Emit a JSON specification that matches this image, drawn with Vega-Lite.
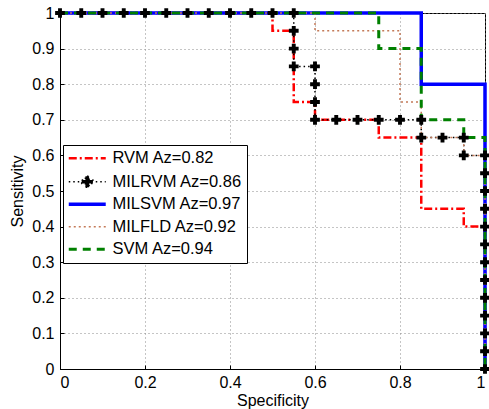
{
  "$schema": "https://vega.github.io/schema/vega-lite/v6.json",
  "width": 425,
  "height": 356,
  "autosize": "none",
  "padding": {"left": 60, "top": 13, "right": 4, "bottom": 40},
  "config": {
    "font": "Liberation Sans",
    "view": {"stroke": "#000000", "strokeWidth": 1},
    "axis": {
      "domainColor": "#000000",
      "tickColor": "#000000",
      "labelColor": "#000000",
      "titleColor": "#000000",
      "labelFontSize": 16,
      "titleFontSize": 16,
      "titleFontWeight": "normal",
      "gridColor": "#8a8a8a",
      "gridDash": [1, 3],
      "gridWidth": 1,
      "tickSize": -4
    },
    "legend": {
      "title": null,
      "orient": "none",
      "legendX": 3,
      "legendY": 132,
      "fillColor": "#ffffff",
      "strokeColor": "#000000",
      "padding": 5,
      "labelFontSize": 16.5,
      "labelColor": "#000000",
      "symbolType": "M-3,0H3",
      "symbolSize": 152,
      "symbolOffset": 11,
      "rowPadding": 5.5,
      "labelOffset": 17
    }
  },
  "data": {
    "values": [
      {"m": "RVM Az=0.82", "o": 1, "x": 0, "y": 1},
      {"m": "RVM Az=0.82", "o": 2, "x": 0.5, "y": 1},
      {"m": "RVM Az=0.82", "o": 3, "x": 0.5, "y": 0.95},
      {"m": "RVM Az=0.82", "o": 4, "x": 0.55, "y": 0.95},
      {"m": "RVM Az=0.82", "o": 5, "x": 0.55, "y": 0.75},
      {"m": "RVM Az=0.82", "o": 6, "x": 0.6, "y": 0.75},
      {"m": "RVM Az=0.82", "o": 7, "x": 0.6, "y": 0.7},
      {"m": "RVM Az=0.82", "o": 8, "x": 0.75, "y": 0.7},
      {"m": "RVM Az=0.82", "o": 9, "x": 0.75, "y": 0.65},
      {"m": "RVM Az=0.82", "o": 10, "x": 0.85, "y": 0.65},
      {"m": "RVM Az=0.82", "o": 11, "x": 0.85, "y": 0.45},
      {"m": "RVM Az=0.82", "o": 12, "x": 0.95, "y": 0.45},
      {"m": "RVM Az=0.82", "o": 13, "x": 0.95, "y": 0.4},
      {"m": "RVM Az=0.82", "o": 14, "x": 1, "y": 0.4},
      {"m": "RVM Az=0.82", "o": 15, "x": 1, "y": 0},

      {"m": "MILRVM Az=0.86", "o": 1, "x": 0, "y": 1},
      {"m": "MILRVM Az=0.86", "o": 2, "x": 0.05, "y": 1},
      {"m": "MILRVM Az=0.86", "o": 3, "x": 0.1, "y": 1},
      {"m": "MILRVM Az=0.86", "o": 4, "x": 0.15, "y": 1},
      {"m": "MILRVM Az=0.86", "o": 5, "x": 0.2, "y": 1},
      {"m": "MILRVM Az=0.86", "o": 6, "x": 0.25, "y": 1},
      {"m": "MILRVM Az=0.86", "o": 7, "x": 0.3, "y": 1},
      {"m": "MILRVM Az=0.86", "o": 8, "x": 0.35, "y": 1},
      {"m": "MILRVM Az=0.86", "o": 9, "x": 0.4, "y": 1},
      {"m": "MILRVM Az=0.86", "o": 10, "x": 0.45, "y": 1},
      {"m": "MILRVM Az=0.86", "o": 11, "x": 0.5, "y": 1},
      {"m": "MILRVM Az=0.86", "o": 12, "x": 0.55, "y": 1},
      {"m": "MILRVM Az=0.86", "o": 13, "x": 0.55, "y": 0.95},
      {"m": "MILRVM Az=0.86", "o": 14, "x": 0.55, "y": 0.9},
      {"m": "MILRVM Az=0.86", "o": 15, "x": 0.55, "y": 0.85},
      {"m": "MILRVM Az=0.86", "o": 16, "x": 0.6, "y": 0.85},
      {"m": "MILRVM Az=0.86", "o": 17, "x": 0.6, "y": 0.8},
      {"m": "MILRVM Az=0.86", "o": 18, "x": 0.6, "y": 0.75},
      {"m": "MILRVM Az=0.86", "o": 19, "x": 0.6, "y": 0.7},
      {"m": "MILRVM Az=0.86", "o": 20, "x": 0.65, "y": 0.7},
      {"m": "MILRVM Az=0.86", "o": 21, "x": 0.7, "y": 0.7},
      {"m": "MILRVM Az=0.86", "o": 22, "x": 0.75, "y": 0.7},
      {"m": "MILRVM Az=0.86", "o": 23, "x": 0.8, "y": 0.7},
      {"m": "MILRVM Az=0.86", "o": 24, "x": 0.85, "y": 0.7},
      {"m": "MILRVM Az=0.86", "o": 25, "x": 0.85, "y": 0.65},
      {"m": "MILRVM Az=0.86", "o": 26, "x": 0.9, "y": 0.65},
      {"m": "MILRVM Az=0.86", "o": 27, "x": 0.95, "y": 0.65},
      {"m": "MILRVM Az=0.86", "o": 28, "x": 0.95, "y": 0.6},
      {"m": "MILRVM Az=0.86", "o": 29, "x": 1, "y": 0.6},
      {"m": "MILRVM Az=0.86", "o": 30, "x": 1, "y": 0.55},
      {"m": "MILRVM Az=0.86", "o": 31, "x": 1, "y": 0.5},
      {"m": "MILRVM Az=0.86", "o": 32, "x": 1, "y": 0.45},
      {"m": "MILRVM Az=0.86", "o": 33, "x": 1, "y": 0.4},
      {"m": "MILRVM Az=0.86", "o": 34, "x": 1, "y": 0.35},
      {"m": "MILRVM Az=0.86", "o": 35, "x": 1, "y": 0.3},
      {"m": "MILRVM Az=0.86", "o": 36, "x": 1, "y": 0.25},
      {"m": "MILRVM Az=0.86", "o": 37, "x": 1, "y": 0.2},
      {"m": "MILRVM Az=0.86", "o": 38, "x": 1, "y": 0.15},
      {"m": "MILRVM Az=0.86", "o": 39, "x": 1, "y": 0.1},
      {"m": "MILRVM Az=0.86", "o": 40, "x": 1, "y": 0.05},
      {"m": "MILRVM Az=0.86", "o": 41, "x": 1, "y": 0},

      {"m": "MILSVM Az=0.97", "o": 1, "x": 0, "y": 1},
      {"m": "MILSVM Az=0.97", "o": 2, "x": 0.85, "y": 1},
      {"m": "MILSVM Az=0.97", "o": 3, "x": 0.85, "y": 0.8},
      {"m": "MILSVM Az=0.97", "o": 4, "x": 1, "y": 0.8},
      {"m": "MILSVM Az=0.97", "o": 5, "x": 1, "y": 0},

      {"m": "MILFLD Az=0.92", "o": 1, "x": 0, "y": 1},
      {"m": "MILFLD Az=0.92", "o": 2, "x": 0.6, "y": 1},
      {"m": "MILFLD Az=0.92", "o": 3, "x": 0.6, "y": 0.95},
      {"m": "MILFLD Az=0.92", "o": 4, "x": 0.8, "y": 0.95},
      {"m": "MILFLD Az=0.92", "o": 5, "x": 0.8, "y": 0.75},
      {"m": "MILFLD Az=0.92", "o": 6, "x": 0.85, "y": 0.75},
      {"m": "MILFLD Az=0.92", "o": 7, "x": 0.85, "y": 0.65},
      {"m": "MILFLD Az=0.92", "o": 8, "x": 0.95, "y": 0.65},
      {"m": "MILFLD Az=0.92", "o": 9, "x": 0.95, "y": 0.6},
      {"m": "MILFLD Az=0.92", "o": 10, "x": 1, "y": 0.6},
      {"m": "MILFLD Az=0.92", "o": 11, "x": 1, "y": 0},

      {"m": "SVM Az=0.94", "o": 1, "x": 0, "y": 1},
      {"m": "SVM Az=0.94", "o": 2, "x": 0.75, "y": 1},
      {"m": "SVM Az=0.94", "o": 3, "x": 0.75, "y": 0.9},
      {"m": "SVM Az=0.94", "o": 4, "x": 0.85, "y": 0.9},
      {"m": "SVM Az=0.94", "o": 5, "x": 0.85, "y": 0.7},
      {"m": "SVM Az=0.94", "o": 6, "x": 0.95, "y": 0.7},
      {"m": "SVM Az=0.94", "o": 7, "x": 0.95, "y": 0.65},
      {"m": "SVM Az=0.94", "o": 8, "x": 1, "y": 0.65},
      {"m": "SVM Az=0.94", "o": 9, "x": 1, "y": 0}
    ]
  },
  "encoding": {
    "x": {
      "field": "x", "type": "quantitative",
      "scale": {"domain": [0, 1], "nice": false, "zero": false},
      "axis": {"title": "Specificity", "values": [0, 0.2, 0.4, 0.6, 0.8, 1], "format": "~g", "labelPadding": 9, "titlePadding": 2, "grid": true}
    },
    "y": {
      "field": "y", "type": "quantitative",
      "scale": {"domain": [0, 1], "nice": false, "zero": false},
      "axis": {"title": "Sensitivity", "values": [0, 0.1, 0.2, 0.3, 0.4, 0.5, 0.6, 0.7, 0.8, 0.9, 1], "format": "~g", "labelPadding": 10, "titlePadding": 6, "grid": true}
    }
  },
  "layer": [
    {
      "mark": {"type": "line", "clip": false},
      "encoding": {
        "order": {"field": "o", "type": "quantitative"},
        "color": {
          "field": "m", "type": "nominal",
          "scale": {
            "domain": ["RVM Az=0.82", "MILRVM Az=0.86", "MILSVM Az=0.97", "MILFLD Az=0.92", "SVM Az=0.94"],
            "range": ["#ff0000", "#000000", "#0000ff", "#c47a58", "#008000"]
          },
          "legend": {
            "encode": {
              "symbols": {
                "update": {
                  "shape": {"signal": "datum.value === 'MILRVM Az=0.86' ? 'M-3,0H3M-0.9,-0.3H-0.3V-0.9H0.3V-0.3H0.9V0.3H0.3V0.9H-0.3V0.3H-0.9Z' : 'M-3,0H3'"},
                  "fill": {"signal": "datum.value === 'MILRVM Az=0.86' ? '#000000' : 'transparent'"}
                }
              }
            }
          }
        },
        "strokeDash": {
          "field": "m", "type": "nominal",
          "scale": {
            "domain": ["RVM Az=0.82", "MILRVM Az=0.86", "MILSVM Az=0.97", "MILFLD Az=0.92", "SVM Az=0.94"],
            "range": [[8, 3, 2, 3], [1.5, 3], [1, 0], [2, 3], [8, 6]]
          }
        },
        "strokeWidth": {
          "field": "m", "type": "nominal",
          "scale": {
            "type": "ordinal",
            "domain": ["RVM Az=0.82", "MILRVM Az=0.86", "MILSVM Az=0.97", "MILFLD Az=0.92", "SVM Az=0.94"],
            "range": [2.5, 1.5, 3.5, 1.5, 3]
          }
        }
      }
    },
    {
      "transform": [{"filter": "datum.m === 'MILRVM Az=0.86'"}],
      "mark": {"type": "point", "shape": "cross", "filled": true, "color": "#000000", "size": 95, "opacity": 1, "clip": false},
      "encoding": {}
    }
  ]
}
